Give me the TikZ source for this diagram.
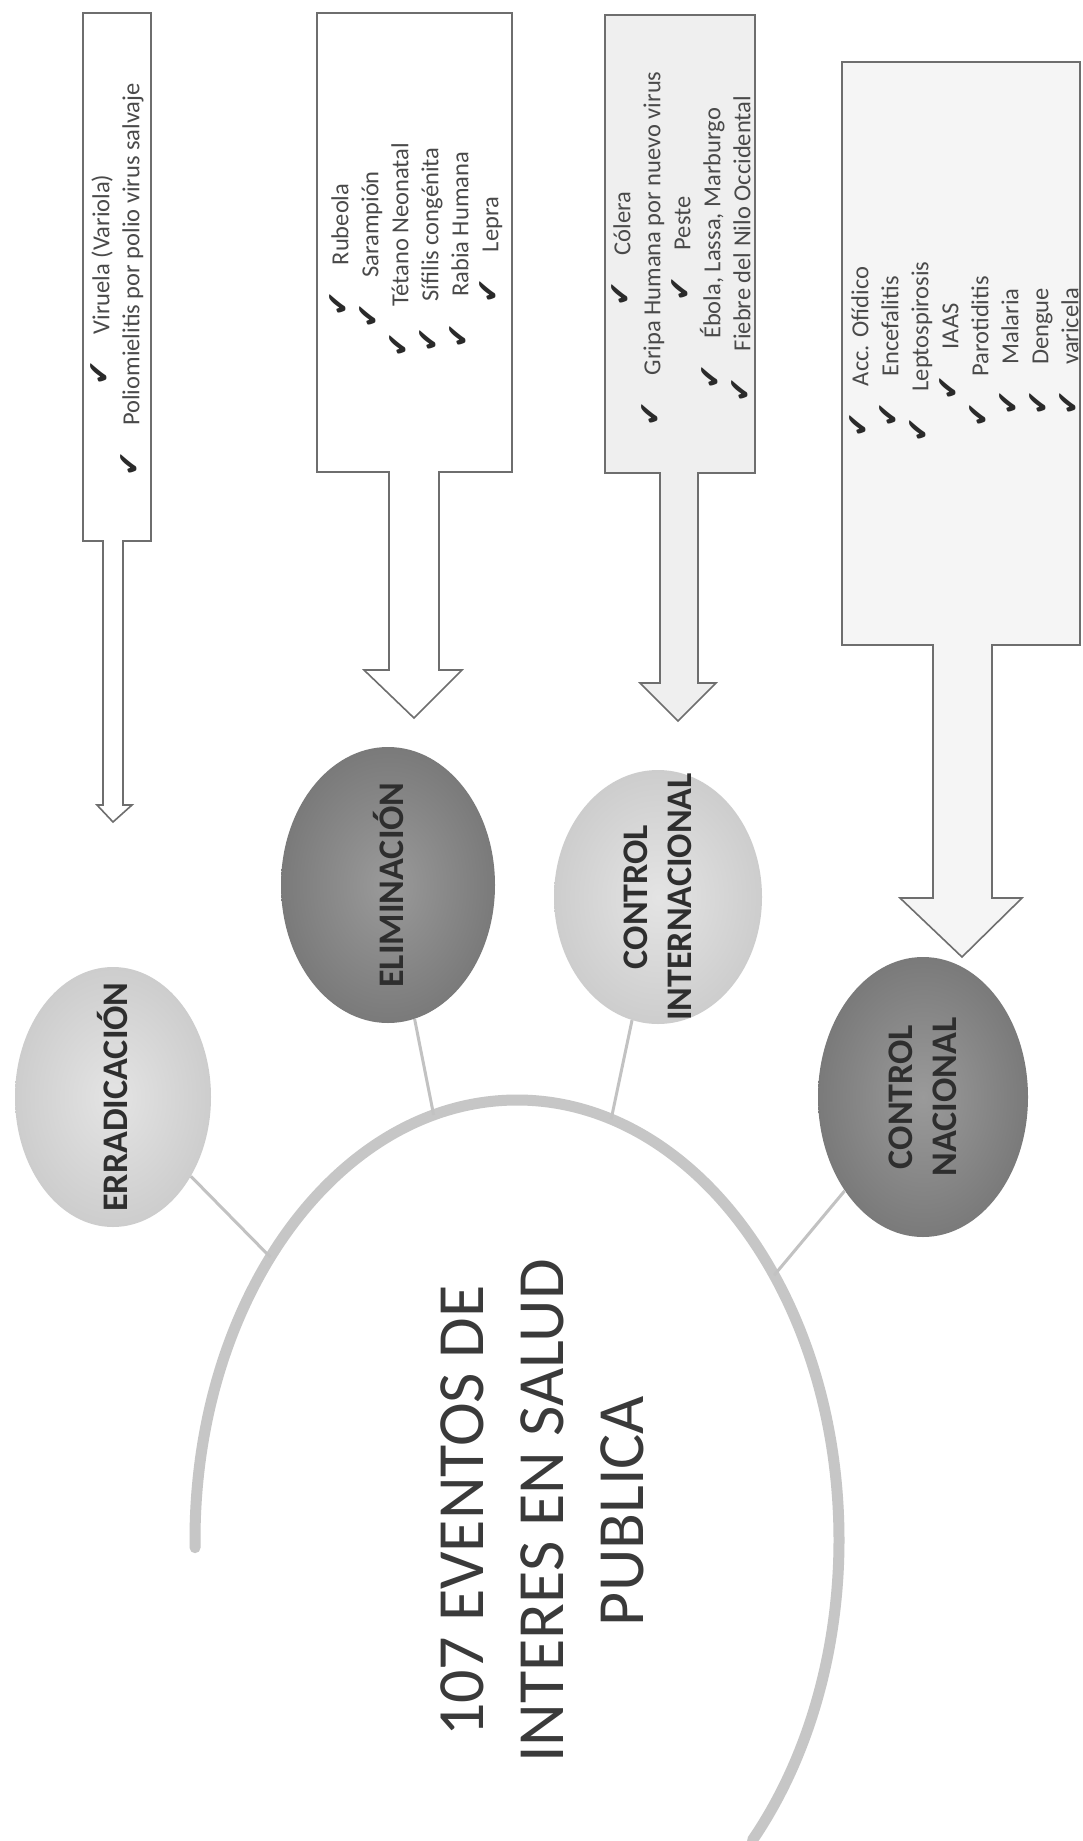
\documentclass[tikz,border=0pt]{standalone}
\usepackage{fontspec}
\setmainfont{Carlito}
\newfontfamily\symfont{DejaVu Sans}
\usetikzlibrary{shapes.geometric,calc}
\definecolor{boxline}{HTML}{6E6E6E}
\definecolor{txt}{HTML}{4A4A4A}
\definecolor{darktxt}{HTML}{2E2E2E}
\definecolor{titletxt}{HTML}{3A3A3A}
\definecolor{linkgray}{HTML}{C2C2C2}
\definecolor{arcgray}{HTML}{C6C6C6}
\definecolor{lightin}{HTML}{E4E4E4}
\definecolor{lightout}{HTML}{CDCDCD}
\definecolor{darkin}{HTML}{9A9A9A}
\definecolor{darkout}{HTML}{7A7A7A}
\definecolor{boxfillA}{HTML}{FFFFFF}
\definecolor{boxfillB}{HTML}{EFEFEF}
\definecolor{boxfillC}{HTML}{F5F5F5}
\definecolor{chkcol}{HTML}{2A2A2A}
\newcommand{\chk}{{\symfont\bfseries\fontsize{30}{30}\selectfont\color{chkcol}✔}\hspace{26pt}}
\tikzset{
  callout/.style={draw=boxline, line width=1.6pt, line join=miter},
  boxtext/.style={rotate=90, align=center, inner sep=0pt, font=\fontsize{24.5}{30}\selectfont, text=txt},
  bubble/.style={ellipse, inner sep=0pt},
  lightbubble/.style={bubble, inner color=lightin, outer color=lightout},
  darkbubble/.style={bubble, inner color=darkin, outer color=darkout},
  bubbletext/.style={rotate=90, align=center, inner sep=0pt, font=\bfseries\fontsize{36}{44}\selectfont, text=darktxt},
  link/.style={draw=linkgray, line width=3pt},
  arcline/.style={draw=arcgray, line width=11pt, line cap=round},
}
\begin{document}
\begin{tikzpicture}[x=1pt,y=1pt]
\useasboundingbox (0,0) rectangle (1083,-1841);
\fill[white] (0,0) rectangle (1083,-1841);

% ---------- callout boxes with down arrows ----------
\draw[callout, fill=boxfillA] (83,-13) -- (151,-13) -- (151,-541) -- (123,-541) -- (123,-805) -- (132,-805) -- (113,-822) -- (97,-805) -- (103,-805) -- (103,-541) -- (83,-541) -- cycle;
\draw[callout, fill=boxfillA] (317,-13) -- (512,-13) -- (512,-472) -- (439,-472) -- (439,-670) -- (462,-670) -- (414,-718) -- (364,-670) -- (389,-670) -- (389,-472) -- (317,-472) -- cycle;
\draw[callout, fill=boxfillB] (605,-15) -- (755,-15) -- (755,-473) -- (698,-473) -- (698,-683) -- (716,-683) -- (678,-721) -- (640,-683) -- (660,-683) -- (660,-473) -- (605,-473) -- cycle;
\draw[callout, fill=boxfillC] (842,-62) -- (1080,-62) -- (1080,-645) -- (992,-645) -- (992,-898) -- (1022,-898) -- (962,-957) -- (900,-898) -- (933,-898) -- (933,-645) -- (842,-645) -- cycle;

\node[boxtext] (t1) at (117,-280) {\chk Viruela (Variola)\\\chk Poliomielitis por polio virus salvaje};
\node[boxtext] (t2) at (416,-250) {\chk Rubeola\\\chk Sarampión\\\chk Tétano Neonatal\\\chk Sífilis congénita\\\chk Rabia Humana\\\chk Lepra};
\node[boxtext] (t3) at (681,-249) {\chk Cólera\\\chk Gripa Humana por nuevo virus\\\chk Peste\\\chk Ébola, Lassa, Marburgo\\\chk Fiebre del Nilo Occidental};
\node[boxtext] (t4) at (964,-352) {\chk Acc. Ofídico\\\chk Encefalitis\\\chk Leptospirosis\\\chk IAAS\\\chk Parotiditis\\\chk Malaria\\\chk Dengue\\\chk varicela};

% ---------- central arc ----------
\coordinate (hub) at (517,-1540);
\draw[arcline] ($(hub)+(181:322pt and 440pt)$) arc[start angle=181, end angle=-43, x radius=322pt, y radius=440pt];
\coordinate (a1) at ($(hub)+(140:322pt and 440pt)$);
\coordinate (a2) at ($(hub)+(105:322pt and 440pt)$);
\coordinate (a3) at ($(hub)+(73:322pt and 440pt)$);
\coordinate (a4) at ($(hub)+(37:322pt and 440pt)$);

% ---------- bubbles ----------
\node[lightbubble, minimum width=196pt, minimum height=260pt] (erad) at (113,-1097) {};
\node[darkbubble, minimum width=214pt, minimum height=276pt] (elim) at (388,-885) {};
\node[lightbubble, minimum width=208pt, minimum height=254pt] (cint) at (658,-897) {};
\node[darkbubble, minimum width=210pt, minimum height=280pt] (cnac) at (923,-1097) {};

\draw[link] (erad) -- (a1);
\draw[link] (elim) -- (a2);
\draw[link] (cint) -- (a3);
\draw[link] (cnac) -- (a4);

\node[bubbletext] at (erad) {ERRADICACIÓN};
\node[bubbletext] at (elim) {ELIMINACIÓN};
\node[bubbletext] at (cint) {CONTROL\\INTERNACIONAL};
\node[bubbletext] at (cnac) {CONTROL\\NACIONAL};

% ---------- title ----------
\node[rotate=90, align=center, inner sep=0pt, font=\fontsize{66}{80}\selectfont, text=titletxt] (title) at (542,-1511) {107 EVENTOS DE\\INTERES EN SALUD\\PUBLICA};
\end{tikzpicture}
\end{document}
